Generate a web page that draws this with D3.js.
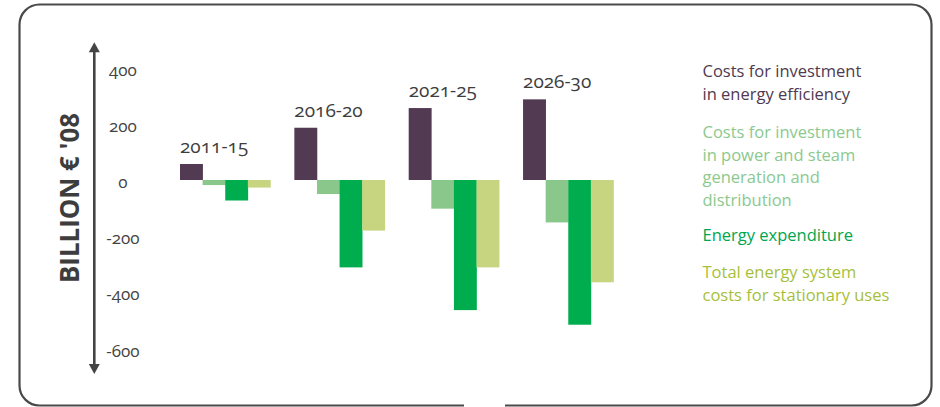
<!DOCTYPE html>
<html><head><meta charset="utf-8">
<script src="https://cdn.jsdelivr.net/npm/d3@7"></script>
<style>
html,body{margin:0;padding:0;background:#fff;}
svg{display:block;font-family:"Open Sans",sans-serif;}
.num{font-feature-settings:"onum";font-variant-numeric:oldstyle-nums;}
</style></head><body>
<svg id="c" width="940" height="407"></svg>
<script>
const categories = ["2011-15","2016-20","2021-25","2026-30"];
const seriesNames = [
  "Costs for investment in energy efficiency",
  "Costs for investment in power and steam generation and distribution",
  "Energy expenditure",
  "Total energy system costs for stationary uses"
];
const legendLines = [
  ["Costs for investment","in energy efficiency"],
  ["Costs for investment","in power and steam","generation and","distribution"],
  ["Energy expenditure"],
  ["Total energy system","costs for stationary uses"]
];
const efficiencyInvest = [57, 186, 256, 287];
const powerInvest = [-18, -50, -102, -151];
const energyExpenditure = [-73, -311, -463, -515];
const totalSystemCosts = [-27, -180, -311, -364];
const tickValues = [400, 200, 0, -200, -400, -600];
const barColors = ["#523a52", "#89c78b", "#00ad4e", "#c8d580"];
const textColors = ["#4f3a50", "#8bc98e", "#00a650", "#a6bf3b"];

const seriesValues = [efficiencyInvest, powerInvest, energyExpenditure, totalSystemCosts];
const svg = d3.select("#c");

// frame
const fx0 = 19.5, fy0 = 4.5, fx1 = 931.5, fy1 = 405.5, r = 20, gapA = 464, gapB = 505;
const p = d3.path();
p.moveTo(gapA, fy1);
p.lineTo(fx0 + r, fy1);
p.arcTo(fx0, fy1, fx0, fy1 - r, r);
p.lineTo(fx0, fy0 + r);
p.arcTo(fx0, fy0, fx0 + r, fy0, r);
p.lineTo(fx1 - r, fy0);
p.arcTo(fx1, fy0, fx1, fy0 + r, r);
p.lineTo(fx1, fy1 - r);
p.arcTo(fx1, fy1, fx1 - r, fy1, r);
p.lineTo(gapB, fy1);
svg.append("path").attr("d", p.toString()).attr("fill","none").attr("stroke","#4a4a4a").attr("stroke-width",2.2);

const y = d3.scaleLinear().domain([-600, 400]).range([348.6, 67.6]);
const x0 = d3.scaleBand().domain(categories).range([180, 613.5]).paddingInner(0.209).paddingOuter(0);
const x1 = d3.scaleBand().domain(d3.range(4)).range([0, x0.bandwidth()]).padding(0);

// axis line with arrows
const axX = 94.3;
const axTop = y(490), axBot = y(-690);
svg.append("line").attr("x1",axX).attr("x2",axX).attr("y1",axTop+6).attr("y2",axBot-6)
  .attr("stroke","#444").attr("stroke-width",2.6);
svg.append("path").attr("d",`M${axX-5.5},${axTop+10}L${axX},${axTop}L${axX+5.5},${axTop+10}Z`).attr("fill","#444");
svg.append("path").attr("d",`M${axX-5.5},${axBot-10}L${axX},${axBot}L${axX+5.5},${axBot-10}Z`).attr("fill","#444");

// tick labels
svg.append("g").selectAll("text").data(tickValues).join("text")
  .attr("class","num")
  .attr("x",123).attr("y",d=>y(d)+2).attr("dy","0.35em")
  .attr("text-anchor","middle").attr("font-size",17).attr("fill","#444")
  .text(d=>d);

// y title
svg.append("text")
  .attr("transform","translate(79,198) rotate(-90)")
  .attr("text-anchor","middle").attr("font-size",27).attr("font-weight","bold")
  .attr("fill","#3d3d3d").attr("textLength",170).attr("lengthAdjust","spacingAndGlyphs")
  .text("BILLION € '08");

// bars
const groups = svg.append("g").selectAll("g").data(categories).join("g")
  .attr("transform", d=>`translate(${x0(d)},0)`);
groups.selectAll("rect").data((d,i)=>seriesValues.map((s,k)=>({k, v:s[i]}))).join("rect")
  .attr("x", d=>x1(d.k)).attr("width", x1.bandwidth()+0.3)
  .attr("y", d=>y(Math.max(0,d.v))).attr("height", d=>Math.abs(y(d.v)-y(0)))
  .attr("fill", d=>barColors[d.k]);

// category labels
groups.append("text").attr("class","num")
  .attr("x",0).attr("y",(d,i)=>y(efficiencyInvest[i]) - 11)
  .attr("font-size",19).attr("fill","#3d3d3d")
  .text(d=>d);

// legend
const lx = 702.5;
const legendTop = [71.7, 132.3, 235, 272.3];
const lineH = 22.5;
const lg = svg.append("g");
legendLines.forEach((lines,k)=>{
  const t = lg.append("text").attr("font-size",16.5).attr("fill",textColors[k]);
  lines.forEach((ln,j)=>{
    t.append("tspan").attr("x",lx).attr("y",legendTop[k]+j*lineH).attr("dy","0.35em").text(ln);
  });
});
</script>
</body></html>
